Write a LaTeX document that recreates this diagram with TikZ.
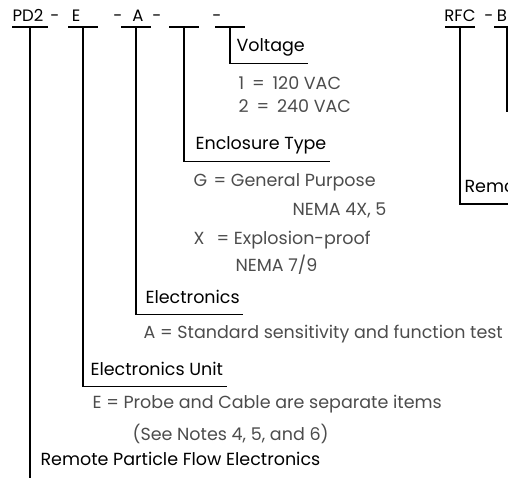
\documentclass[tikz,border=0pt]{standalone}
\usepackage{fontspec}
\setmainfont{Poppins}
\usetikzlibrary{positioning}
\tikzset{every picture/.style={line width=1.2pt}}

\begin{document}
\begin{tikzpicture}[x=1pt,y=-1pt,
    code/.style={font=\fontsize{16.5}{19}\selectfont,anchor=base,inner sep=0pt},
    head/.style={font=\fontsize{17.5}{20}\selectfont,anchor=base west,inner xsep=3pt,inner ysep=0pt,text depth=11pt},
    value/.style={font=\fontsize{17.5}{20}\selectfont,text=black!70,anchor=base west,inner sep=0pt},
    slot/.style={minimum width=28pt,minimum height=0pt,inner sep=0pt}]
    \useasboundingbox (0,0) rectangle (508,478);

    % Model code along the top
    \node[code] (cPD) at (28,22) {PD2};
    \node[code] (d1) at (55,22) {-};
    \node[code] (cE) at (76,22) {E};
    \node[code] (d2) at (118,22) {-};
    \node[code] (cA) at (138,22) {A};
    \node[code] (d3) at (157,22) {-};
    \node[code] (d4) at (217,22) {-};
    \node[code] (cRFC) at (460,22) {RFC};
    \node[code] (dR) at (489,22) {-};
    \node[code] (cB) at (502,22) {B};

    % Slots under the code
    \node[slot,minimum width=34pt] (sPD) at (30,27) {};
    \node[slot] (sE) at (83,27) {};
    \node[slot] (sA) at (136,27) {};
    \node[slot] (sEnc) at (184,27) {};
    \node[slot] (sV) at (230,27) {};
    \node[slot] (sRFC) at (460,27) {};
    \node[slot,minimum width=24pt] (sB) at (507,27) {};
    \foreach \s in {sPD,sE,sA,sEnc,sV,sRFC,sB}
        \draw (\s.west) -- (\s.east);

    % Headings
    \node[head] (hVolt) at (233,52) {Voltage};
    \node[head] (hEnc) at (192,150) {Enclosure Type};
    \node[head] (hElec) at (142,303) {Electronics};
    \node[head] (hUnit) at (87,375) {Electronics Unit};
    \node[head] (hRemote) at (37,465) {Remote Particle Flow Electronics};
    \node[head] (hRemo) at (461,193) {Remo};

    % Options
    \node[value] (v1) at (238,90) {1\hspace{.45em}=\hspace{.45em}120 VAC};
    \node[value] (v2) at (238,113) {2\hspace{.45em}=\hspace{.45em}240 VAC};
    \node[value] (gKey) at (193,187) {G};
    \node[value] (gVal) at (213,187) {= General Purpose};
    \node[value] (gNema) at (292,215) {NEMA 4X, 5};
    \node[value] (xKey) at (193,244) {X};
    \node[value] (xVal) at (216,244) {= Explosion-proof};
    \node[value] (xNema) at (235,271) {NEMA 7/9};
    \node[value] (aVal) at (143,338) {A = Standard sensitivity and function test};
    \node[value] (eVal) at (92,408) {E = Probe and Cable are separate items};
    \node[value] (eNote) at (132,440) {(See Notes 4, 5, and 6)};

    % Leader lines
    \coordinate (pdEnd) at (29,478);
    \coordinate (rfcEnd) at (508,204);
    \coordinate (bEnd) at (507,112);
    \draw (sV) |- (hVolt.south east);
    \draw (sEnc) |- (hEnc.south east);
    \draw (sA) |- (hElec.south east);
    \draw (sE) |- (hUnit.south east);
    \draw (sPD) -- (sPD |- pdEnd);
    \draw (sRFC) |- (rfcEnd);
    \draw (sB) -- (sB |- bEnd);
\end{tikzpicture}
\end{document}
